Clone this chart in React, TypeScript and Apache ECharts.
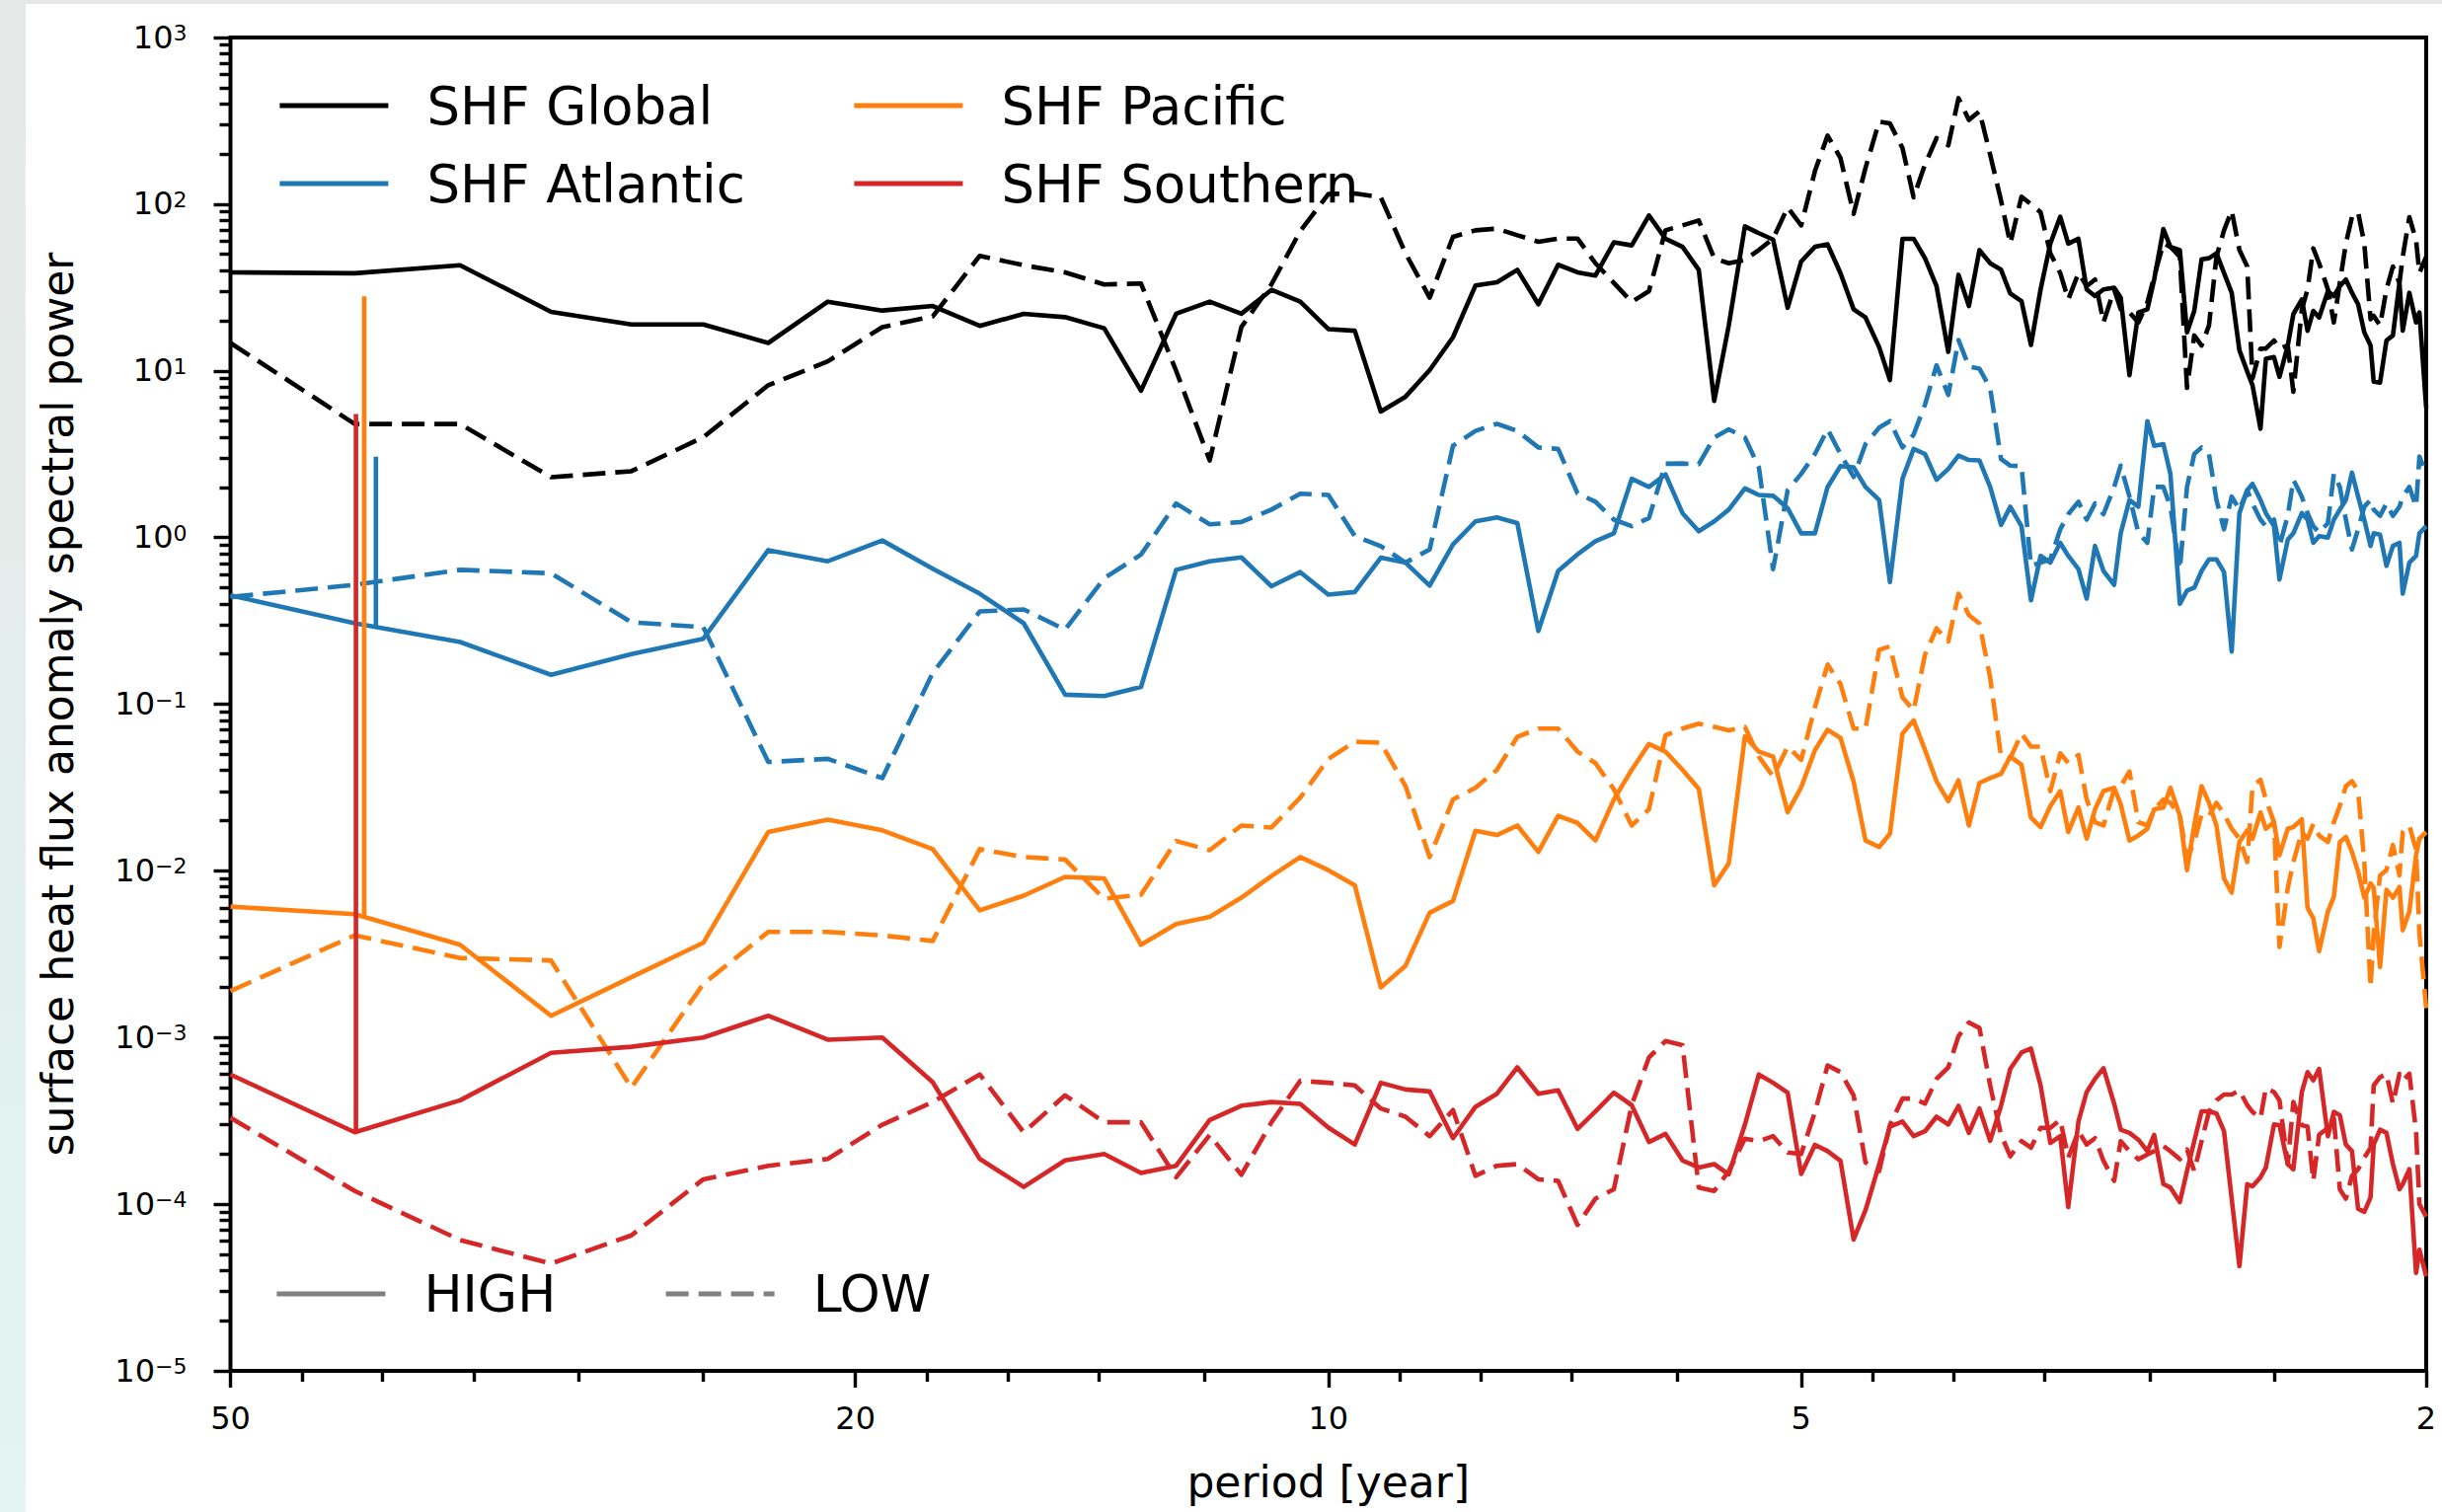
import React, { useEffect, useRef } from "react";
import * as echarts from "echarts";

// ---------------- data ----------------
// periods of the spectral estimates [year]
const periods = [
  50, 41.67, 35.71, 31.25, 27.78, 25, 22.73, 20.83, 19.23, 17.86,
  16.67, 15.63, 14.71, 13.89, 13.16, 12.5, 11.9, 11.36, 10.87, 10.42,
  10, 9.62, 9.26, 8.93, 8.62, 8.33, 8.06, 7.81, 7.58, 7.35,
  7.14, 6.94, 6.76, 6.58, 6.41, 6.25, 6.1, 5.95, 5.81, 5.68,
  5.56, 5.43, 5.32, 5.21, 5.1, 5, 4.9, 4.81, 4.72, 4.63,
  4.55, 4.46, 4.39, 4.31, 4.24, 4.17, 4.1, 4.03, 3.97, 3.91,
  3.85, 3.79, 3.73, 3.68, 3.62, 3.57, 3.52, 3.47, 3.42, 3.38,
  3.33, 3.29, 3.25, 3.21, 3.16, 3.13, 3.09, 3.05, 3.01, 2.98,
  2.94, 2.91, 2.87, 2.84, 2.81, 2.78, 2.75, 2.72, 2.69, 2.66,
  2.63, 2.6, 2.58, 2.55, 2.53, 2.5, 2.48, 2.45, 2.43, 2.4,
  2.38, 2.36, 2.34, 2.31, 2.29, 2.27, 2.25, 2.23, 2.21, 2.19,
  2.17, 2.16, 2.14, 2.12, 2.1, 2.08, 2.07, 2.05, 2.03, 2.02,
  2,
];

const globalHigh = [
  39, 38.5, 43, 22.6, 19, 19, 14.7, 26, 23, 24.5,
  18.6, 22, 21, 18, 7.6, 22, 26, 22, 30.6, 26,
  17.8, 17.4, 5.7, 7.0, 10.1, 15.9, 32.5, 34, 40.4, 25.1,
  43.3, 39, 37.3, 59, 56.6, 85.5, 62, 55.5, 40.4, 6.6,
  18.7, 73.6, 67, 61.3, 23.9, 45.3, 55.5, 57.4, 38.6, 23.4,
  20.9, 13.9, 8.8, 62, 62, 47.4, 32.2, 13, 37.7, 24.5,
  53, 44.2, 40.4, 29.1, 26.2, 14.3, 30.8, 58, 84, 58,
  62, 30.8, 28.1, 30.8, 31.5, 27.5, 9.4, 22.4, 23.4, 35.3,
  71, 55.5, 53, 17, 22.9, 46.7, 47.4, 50.7, 38.6, 29.4,
  13.3, 9.9, 8.2, 4.5, 11.8, 12.1, 9.2, 14.2, 21.9, 26.8,
  17.4, 22.9, 20.9, 30.1, 28.1, 32.2, 35.3, 29.4, 25.1, 17,
  14.2, 8.6, 8.5, 15.2, 16.3, 33.7, 17.4, 29.4, 19.5, 22.4,
  6,
];

const globalLow = [
  14.7, 4.8, 4.8, 2.3, 2.5, 4.0, 8.2, 11.4, 18.3, 21.2,
  49, 43, 39, 33, 33.4, 10, 2.9, 18.3, 33, 69,
  115, 116, 110, 50.7, 27.5, 63.7, 69.7, 71.3, 65.1, 59.5,
  62.2, 62.2, 44.2, 33.7, 25.9, 30.1, 69.7, 74.6, 79.9, 47.4,
  44.2, 46.3, 53.1, 62.2, 95.6, 74.6, 158, 258, 189, 87.5,
  165, 313, 305, 217, 110, 173, 249, 225, 433, 320,
  361, 198, 105, 58.1, 111, 100, 89.5, 50.7, 38.6, 26.8,
  38.6, 32.2, 35.3, 19.5, 30.8, 23.4, 22.4, 19.5, 25.7, 36.9,
  58.1, 55.5, 48.4, 7.9, 16.3, 14.2, 18.7, 48.4, 69.7, 91.5,
  53.1, 42.3, 9.0, 13.6, 13.6, 15.2, 13.6, 14.2, 7.5, 23.4,
  30.8, 54.3, 44.2, 30.8, 19.5, 33.7, 58.1, 83.6, 89.5, 58.1,
  20.4, 21.4, 18.7, 30.8, 42.3, 33.7, 48.4, 83.6, 60.8, 38.6,
  48.4,
];

const atlanticHigh = [
  0.45, 0.306, 0.236, 0.15, 0.2, 0.247, 0.84, 0.72, 0.96, 0.65,
  0.46, 0.306, 0.114, 0.112, 0.127, 0.64, 0.72, 0.76, 0.51, 0.62,
  0.454, 0.471, 0.757, 0.707, 0.515, 0.908, 1.25, 1.32, 1.22, 0.275,
  0.63, 0.793, 0.95, 1.06, 2.25, 2.01, 2.39, 1.4, 1.09, 1.25,
  1.47, 1.97, 1.8, 1.78, 1.5, 1.06, 1.06, 2.01, 2.68, 2.64,
  2.01, 1.68, 0.54, 2.25, 3.4, 3.17, 2.22, 2.58, 3.1, 2.92,
  2.9, 2.01, 1.19, 1.53, 1.17, 0.42, 0.776, 0.707, 0.93, 0.776,
  0.646, 0.43, 0.89, 0.63, 0.52, 1.06, 1.68, 1.53, 4.99, 3.55,
  3.63, 2.41, 0.4, 0.48, 0.5, 0.63, 0.74, 0.74, 0.62, 0.207,
  1.4, 1.92, 2.1, 1.68, 1.4, 1.17, 0.56, 0.97, 1.06, 1.4,
  1.28, 0.93, 1.02, 1.0, 1.28, 1.47, 1.68, 2.45, 1.76, 1.28,
  0.89, 1.06, 1.04, 0.676, 0.89, 0.93, 0.46, 0.707, 0.776, 1.06,
  1.17,
];

const atlanticLow = [
  0.44, 0.52, 0.64, 0.61, 0.31, 0.29, 0.045, 0.047, 0.036, 0.154,
  0.36, 0.37, 0.28, 0.57, 0.79, 1.6, 1.2, 1.24, 1.47, 1.83,
  1.8, 1.02, 0.888, 0.707, 0.848, 3.55, 4.36, 4.81, 4.36, 3.47,
  3.4, 1.84, 1.64, 1.28, 1.17, 1.31, 2.77, 2.78, 2.75, 3.98,
  4.46, 3.98, 2.64, 0.646, 1.92, 2.41, 3.17, 4.46, 3.17, 2.31,
  3.63, 4.56, 4.99, 3.47, 4.14, 6.27, 10.8, 7.18, 15.3, 10.6,
  10.3, 7.87, 2.96, 2.7, 2.68, 0.676, 0.707, 0.74, 1.12, 1.38,
  1.64, 1.28, 1.6, 1.38, 2.01, 2.7, 1.76, 1.07, 0.929, 2.01,
  2.01, 1.53, 0.646, 2.01, 3.17, 3.47, 3.17, 1.68, 1.12, 1.76,
  1.47, 1.92, 1.6, 1.28, 1.17, 1.28, 0.89, 1.35, 2.22, 1.76,
  1.4, 1.17, 1.07, 1.22, 2.41, 2.01, 1.28, 0.848, 1.12, 1.53,
  1.68, 1.47, 1.35, 1.6, 1.35, 1.53, 1.76, 2.01, 1.53, 3.06,
  2.41,
];

const pacificHigh = [
  0.0061, 0.0055, 0.0036, 0.00135, 0.0023, 0.0037, 0.0171, 0.0203, 0.0175, 0.0135,
  0.0058, 0.0071, 0.0092, 0.009, 0.0036, 0.0048, 0.0053, 0.0069, 0.0093, 0.0121,
  0.0101, 0.0082, 0.002, 0.0027, 0.0056, 0.0066, 0.0174, 0.0164, 0.0187, 0.013,
  0.0214, 0.0194, 0.0152, 0.0268, 0.0404, 0.0577, 0.0519, 0.0404, 0.0311, 0.0082,
  0.0111, 0.0641, 0.0519, 0.0485, 0.0225, 0.0317, 0.053, 0.0703, 0.0627, 0.0343,
  0.0152, 0.0139, 0.0167, 0.0667, 0.08, 0.0531, 0.0345, 0.0262, 0.0349, 0.0187,
  0.0337, 0.036, 0.0382, 0.0485, 0.0433, 0.0209, 0.0183, 0.0245, 0.0301, 0.0171,
  0.024, 0.0156, 0.0234, 0.0301, 0.0315, 0.0251, 0.0152, 0.0163, 0.0179, 0.0234,
  0.024, 0.0315, 0.0214, 0.0101, 0.0187, 0.0322, 0.0256, 0.0187, 0.009, 0.0074,
  0.0149, 0.0175, 0.0156, 0.0224, 0.0179, 0.0196, 0.0124, 0.0179, 0.0183, 0.0204,
  0.006, 0.0052, 0.0033, 0.0057, 0.007, 0.0149, 0.016, 0.013, 0.0099, 0.0069,
  0.0084, 0.0079, 0.00265, 0.0077, 0.0069, 0.008, 0.0044, 0.0057, 0.0124, 0.0156,
  0.0171,
];

const pacificLow = [
  0.0019, 0.0041, 0.003, 0.0029, 0.0005, 0.0021, 0.0043, 0.0043, 0.0041, 0.0038,
  0.0135, 0.0121, 0.0117, 0.0068, 0.0072, 0.0151, 0.0133, 0.0187, 0.0182, 0.0275,
  0.047, 0.0595, 0.0587, 0.0322, 0.0121, 0.0268, 0.0315, 0.0404, 0.0637, 0.0714,
  0.0714, 0.0519, 0.0443, 0.0309, 0.0187, 0.0234, 0.0652, 0.0714, 0.0764, 0.073,
  0.0697, 0.073, 0.0485, 0.0368, 0.0556, 0.0464, 0.096, 0.173, 0.132, 0.0714,
  0.0714, 0.212, 0.222, 0.11, 0.0916, 0.198, 0.285, 0.238, 0.46, 0.342,
  0.305, 0.144, 0.0485, 0.0474, 0.0667, 0.0556, 0.0556, 0.0301, 0.0507, 0.0443,
  0.0496, 0.0268, 0.0196, 0.0187, 0.0309, 0.0322, 0.0395, 0.0196, 0.0187, 0.0234,
  0.0268, 0.0256, 0.0214, 0.0119, 0.0149, 0.0219, 0.0214, 0.0256, 0.0219, 0.0179,
  0.0156, 0.0113, 0.0322, 0.0352, 0.0268, 0.0196, 0.0035, 0.0079, 0.0113, 0.0171,
  0.0156, 0.0191, 0.0163, 0.0149, 0.0196, 0.0245, 0.0322, 0.0345, 0.0301, 0.0113,
  0.002, 0.0042, 0.0094, 0.0101, 0.0143, 0.0094, 0.0171, 0.0187, 0.0134, 0.0042,
  0.0015,
];

const southernHigh = [
  6.0e-4, 2.7e-4, 4.2e-4, 8.1e-4, 8.8e-4, 1.0e-3, 1.35e-3, 9.7e-4, 1.0e-3, 5.4e-4,
  1.87e-4, 1.27e-4, 1.83e-4, 2.0e-4, 1.54e-4, 1.7e-4, 3.2e-4, 3.9e-4, 4.1e-4, 4.0e-4,
  2.88e-4, 2.28e-4, 5.35e-4, 4.88e-4, 4.75e-4, 2.49e-4, 3.84e-4, 4.6e-4, 6.62e-4, 4.6e-4,
  4.82e-4, 2.83e-4, 3.6e-4, 4.67e-4, 3.93e-4, 2.36e-4, 2.64e-4, 1.83e-4, 1.66e-4, 1.74e-4,
  1.51e-4, 3.0e-4, 6.0e-4, 5.35e-4, 4.67e-4, 1.52e-4, 2.27e-4, 2.08e-4, 1.82e-4, 6.14e-5,
  9.2e-5, 1.73e-4, 2.92e-4, 3.13e-4, 2.56e-4, 2.74e-4, 3.35e-4, 3.01e-4, 3.89e-4, 2.68e-4,
  3.75e-4, 2.4e-4, 3.9e-4, 6.48e-4, 8.13e-4, 8.58e-4, 5.16e-4, 2.33e-4, 2.56e-4, 9.63e-5,
  3.13e-4, 4.71e-4, 5.65e-4, 6.54e-4, 4.01e-4, 2.8e-4, 2.68e-4, 2.44e-4, 2.08e-4, 2.61e-4,
  1.32e-4, 1.26e-4, 1.03e-4, 1.58e-4, 2.39e-4, 3.61e-4, 3.61e-4, 3.5e-4, 2.74e-4, 1.08e-4,
  4.25e-5, 1.32e-4, 1.28e-4, 1.45e-4, 1.66e-4, 3.01e-4, 2.98e-4, 1.74e-4, 1.62e-4, 4.71e-4,
  6.2e-4, 5.53e-4, 6.48e-4, 2.56e-4, 3.58e-4, 3.42e-4, 2.28e-4, 2.08e-4, 9.4e-5, 9.0e-5,
  1.1e-4, 2.28e-4, 2.8e-4, 2.68e-4, 1.74e-4, 1.23e-4, 1.32e-4, 1.62e-4, 3.87e-5, 5.33e-5,
  3.69e-5,
];

const southernLow = [
  3.3e-4, 1.2e-4, 6.1e-5, 4.4e-5, 6.5e-5, 1.41e-4, 1.7e-4, 1.87e-4, 3.0e-4, 4.1e-4,
  6.0e-4, 2.7e-4, 4.5e-4, 3.1e-4, 3.1e-4, 1.45e-4, 2.6e-4, 1.5e-4, 3.1e-4, 5.5e-4,
  5.35e-4, 5.16e-4, 3.75e-4, 3.35e-4, 2.56e-4, 3.67e-4, 1.48e-4, 1.7e-4, 1.74e-4, 1.41e-4,
  1.38e-4, 7.5e-5, 1.08e-4, 1.23e-4, 3.93e-4, 7.59e-4, 9.53e-4, 9.0e-4, 1.26e-4, 1.2e-4,
  1.58e-4, 2.47e-4, 2.39e-4, 2.56e-4, 2.04e-4, 2.0e-4, 3.58e-4, 6.8e-4, 6.2e-4, 4.5e-4,
  1.78e-4, 1.58e-4, 2.98e-4, 4.3e-4, 4.3e-4, 4.01e-4, 5.65e-4, 6.62e-4, 1.02e-3, 1.23e-3,
  1.14e-3, 5.16e-4, 2.61e-4, 1.94e-4, 2.39e-4, 2.18e-4, 2.87e-4, 2.87e-4, 3.21e-4, 1.9e-4,
  2.74e-4, 2.28e-4, 2.49e-4, 1.82e-4, 1.38e-4, 2.39e-4, 2.08e-4, 1.86e-4, 1.99e-4, 2.08e-4,
  2.23e-4, 2.08e-4, 1.86e-4, 2.13e-4, 1.58e-4, 2.39e-4, 3.58e-4, 4.2e-4, 4.55e-4, 4.55e-4,
  4.82e-4, 3.93e-4, 3.58e-4, 3.28e-4, 4.98e-4, 4.71e-4, 4.2e-4, 1.74e-4, 4.11e-4, 2.98e-4,
  2.92e-4, 1.38e-4, 2.61e-4, 2.87e-4, 3.28e-4, 1.23e-4, 1.08e-4, 1.48e-4, 1.62e-4, 1.9e-4,
  2.18e-4, 5.16e-4, 5.78e-4, 6.06e-4, 4.01e-4, 6.06e-4, 5.53e-4, 6.06e-4, 2.74e-4, 1.0e-4,
  8.4e-5,
];

// isolated vertical peaks near 41 years (period, [bottom, top])
const atlanticPeakPeriod = 40.4;
const atlanticPeak = [0.285, 3.05];
const pacificPeakPeriod = 41.1;
const pacificPeak = [0.0054, 28];
const southernPeakPeriod = 41.6;
const southernPeak = [0.00027, 5.5];

// axis ticks
const majorPeriodTicks = [50, 20, 10, 5, 2];
const minorPeriodTicks = [45, 40, 35, 30, 25, 18, 16, 14, 12, 9, 8, 7, 6, 4.5, 4, 3.5, 3, 2.5];
const powerExponents = [-5, -4, -3, -2, -1, 0, 1, 2, 3];
const minorMantissas = [2, 3, 4, 5, 6, 7, 8, 9];

// ---------------- styling ----------------
const FONT = "DejaVu Sans";
const C_GLOBAL = "#000000";
const C_ATL = "#1f77b4";
const C_PAC = "#ff7f0e";
const C_SOU = "#d62728";
const C_GREY = "#808080";
const LW = 4.6;
const DASH = [23, 10];

const lg = (v: number) => Math.log10(v);
const toPts = (vals: number[]) => periods.map((p, i) => [lg(p), lg(vals[i])]);

function lineSeries(name: string, color: string, vals: number[], dashed: boolean) {
  return {
    name,
    type: "line",
    data: toPts(vals),
    symbol: "none",
    showSymbol: false,
    silent: true,
    clip: true,
    xAxisIndex: 0,
    yAxisIndex: 0,
    itemStyle: { color },
    lineStyle: {
      color,
      width: LW,
      type: dashed ? DASH : "solid",
      join: "round",
      cap: "butt",
    },
  };
}

function peakSeries(name: string, color: string, period: number, range: number[]) {
  return {
    name,
    type: "line",
    data: [
      [lg(period), lg(range[0])],
      [lg(period), lg(range[1])],
    ],
    symbol: "none",
    showSymbol: false,
    silent: true,
    clip: true,
    itemStyle: { color },
    lineStyle: { color, width: LW, type: "solid" },
  };
}

function buildOption() {
  const xMin = lg(2);
  const xMax = lg(50);
  const minorY: number[] = [];
  powerExponents.slice(0, -1).forEach((e) => minorMantissas.forEach((m) => minorY.push(e + lg(m))));

  const legendText = (size: number) => ({
    fontFamily: FONT,
    fontSize: size,
    color: "#000",
    lineHeight: 60,
    padding: [0, 0, 0, 34],
  });
  const legendCommon = {
    padding: 0,
    selectedMode: false,
    itemWidth: 110,
    itemHeight: 14,
    itemStyle: { opacity: 0 },
    lineStyle: { width: 4.8 },
  };

  return {
    animation: false,
    textStyle: { fontFamily: FONT },
    grid: {
      left: 233.5,
      top: 38,
      right: 16,
      bottom: 143,
      show: true,
      borderWidth: 4,
      borderColor: "#000",
      backgroundColor: "#ffffff",
      containLabel: false,
      outerBoundsMode: "none",
    },
    xAxis: [
      {
        type: "value",
        position: "bottom",
        min: xMin,
        max: xMax,
        inverse: true,
        name: "period [year]",
        nameLocation: "middle",
        nameGap: 90,
        nameTextStyle: { fontFamily: FONT, fontSize: 44, color: "#000" },
        axisLine: { show: false, onZero: false },
        splitLine: { show: false },
        axisTick: {
          show: true,
          length: 17,
          lineStyle: { color: "#000", width: 3.4 },
          customValues: majorPeriodTicks.map(lg),
        },
        axisLabel: {
          show: true,
          margin: 32,
          fontFamily: FONT,
          fontSize: 32,
          color: "#000",
          customValues: majorPeriodTicks.map(lg),
          formatter: (v: number) => String(Math.round(Math.pow(10, v) * 10) / 10),
        },
      },
      {
        type: "value",
        position: "bottom",
        min: xMin,
        max: xMax,
        inverse: true,
        axisLine: { show: false, onZero: false },
        splitLine: { show: false },
        axisLabel: { show: false },
        axisTick: {
          show: true,
          length: 11,
          lineStyle: { color: "#000", width: 3.4 },
          customValues: minorPeriodTicks.map(lg),
        },
      },
    ],
    yAxis: [
      {
        type: "value",
        position: "left",
        min: -5,
        max: 3,
        interval: 1,
        name: "surface heat flux anomaly spectral power",
        nameLocation: "middle",
        nameGap: 153,
        nameTextStyle: { fontFamily: FONT, fontSize: 44, color: "#000" },
        axisLine: { show: false, onZero: false },
        splitLine: { show: false },
        axisTick: { show: true, length: 17, lineStyle: { color: "#000", width: 3.4 } },
        axisLabel: {
          show: true,
          margin: 44,
          color: "#000",
          fontFamily: FONT,
          formatter: (v: number) => {
            const e = Math.round(v);
            const s = e < 0 ? "\u2212" + String(-e) : String(e);
            return "{b|10}{s|" + s + "}";
          },
          rich: {
            b: {
              fontFamily: FONT,
              fontSize: 32,
              lineHeight: 31,
              color: "#000",
              padding: [6, 0, 0, 0],
              verticalAlign: "bottom",
            },
            s: {
              fontFamily: FONT,
              fontSize: 22,
              lineHeight: 19,
              color: "#000",
              verticalAlign: "top",
            },
          },
        },
      },
      {
        type: "value",
        position: "left",
        min: -5,
        max: 3,
        interval: 1,
        axisLine: { show: false, onZero: false },
        splitLine: { show: false },
        axisLabel: { show: false },
        axisTick: {
          show: true,
          length: 11,
          lineStyle: { color: "#000", width: 3.4 },
          customValues: minorY,
        },
      },
    ],
    legend: [
      {
        ...legendCommon,
        data: ["SHF Global", "SHF Atlantic"],
        orient: "vertical",
        left: 281,
        top: 77,
        itemGap: 19,
        textStyle: legendText(53),
      },
      {
        ...legendCommon,
        data: ["SHF Pacific", "SHF Southern"],
        orient: "vertical",
        left: 863,
        top: 77,
        itemGap: 19,
        textStyle: legendText(53),
      },
      {
        ...legendCommon,
        data: ["HIGH", "LOW"],
        orient: "horizontal",
        left: 278,
        top: 1281,
        itemGap: 109,
        textStyle: legendText(52),
      },
    ],
    series: [
      lineSeries("SHF Global", C_GLOBAL, globalHigh, false),
      lineSeries("SHF Global (LOW)", C_GLOBAL, globalLow, true),
      lineSeries("SHF Atlantic", C_ATL, atlanticHigh, false),
      lineSeries("SHF Atlantic (LOW)", C_ATL, atlanticLow, true),
      lineSeries("SHF Pacific", C_PAC, pacificHigh, false),
      lineSeries("SHF Pacific (LOW)", C_PAC, pacificLow, true),
      lineSeries("SHF Southern", C_SOU, southernHigh, false),
      lineSeries("SHF Southern (LOW)", C_SOU, southernLow, true),
      peakSeries("Atlantic peak", C_ATL, atlanticPeakPeriod, atlanticPeak),
      peakSeries("Pacific peak", C_PAC, pacificPeakPeriod, pacificPeak),
      peakSeries("Southern peak", C_SOU, southernPeakPeriod, southernPeak),
      lineSeries("HIGH", C_GREY, [], false),
      lineSeries("LOW", C_GREY, [], true),
    ],
  };
}

export default function App() {
  const ref = useRef<HTMLDivElement>(null);
  useEffect(() => {
    if (!ref.current) return;
    const chart = echarts.init(ref.current, undefined, { renderer: "svg" });
    chart.setOption(buildOption() as any);
    return () => chart.dispose();
  }, []);
  return (
    <div
      style={{
        position: "fixed",
        left: 0,
        top: 0,
        width: 2474,
        height: 1532,
        overflow: "hidden",
        background: "linear-gradient(180deg, #e6e8e7 0%, #e4ecea 35%, #e1f1ee 70%, #e4f4f1 100%)",
      }}
    >
      <div style={{ position: "absolute", left: 26, top: 4, right: 0, bottom: 0, background: "#ffffff" }} />
      <div ref={ref} style={{ position: "absolute", left: 0, top: 0, width: 2474, height: 1532 }} />
    </div>
  );
}
